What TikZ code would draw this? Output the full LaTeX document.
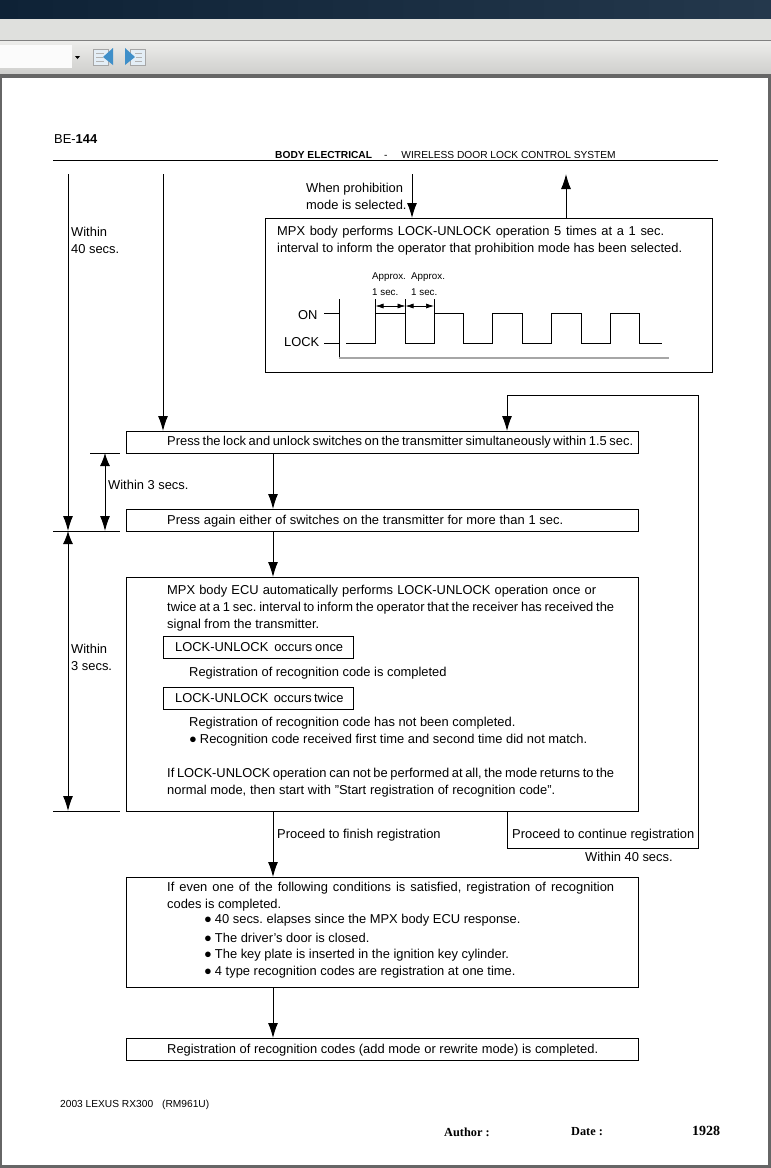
\documentclass[tikz,border=0pt]{standalone}
\usepackage{fontspec}
\setmainfont{Liberation Sans}
\newfontfamily\footserif{Liberation Serif}
\usetikzlibrary{arrows.meta}
\definecolor{barnavy}{HTML}{0E2236}
\definecolor{barslate}{HTML}{24384C}
\definecolor{barpale}{HTML}{DFE0DD}
\definecolor{toolhigh}{HTML}{EDEDEB}
\definecolor{toollow}{HTML}{CFCFCD}
\definecolor{pageedge}{HTML}{666666}
\definecolor{iconblue}{HTML}{3F8FC9}
\definecolor{iconpale}{HTML}{E4EEF6}
\newcommand{\fitline}[2]{\makebox[#1pt][s]{#2}}
\frenchspacing
\tikzset{
    flowbox/.style={draw, line width=1pt, inner sep=0pt, outer sep=0pt, anchor=north west},
    txt/.style={anchor=west, align=left, inner sep=0pt, yshift=-0.8pt, font=\fontsize{12.9}{16.8}\selectfont},
    smalltxt/.style={anchor=west, inner sep=0pt, font=\fontsize{10.2}{11}\selectfont},
    tinytxt/.style={anchor=west, inner sep=0pt, font=\fontsize{9.8}{11}\selectfont},
    footbold/.style={anchor=west, inner sep=0pt, font=\footserif\bfseries\fontsize{12.3}{14}\selectfont},
    arr/.style={line width=1pt, -{Latex[length=15pt,width=10pt]}},
    dbl/.style={line width=1pt, {Latex[length=13pt,width=10pt]}-{Latex[length=15pt,width=10pt]}},
    dim/.style={line width=0.7pt, {Latex[length=8pt,width=5pt]}-{Latex[length=8pt,width=5pt]}},
    wire/.style={line width=1pt}
}
\begin{document}
\begin{tikzpicture}[x=1pt,y=-1pt]
    \useasboundingbox (0,0) rectangle (771,1168);

    \fill[pageedge] (0,0) rectangle (771,1168);
    \fill[white] (2,78) rectangle (768,1165);
    \shade[left color=barnavy, right color=barslate] (0,0) rectangle (771,18);
    \fill[barpale] (0,19) rectangle (771,40);
    \draw[gray] (0,40.5) -- (771,40.5);
    \shade[top color=toolhigh, bottom color=toollow] (0,41) rectangle (771,73);
    \fill[white!97!gray] (0,45) rectangle (72,68);
    \fill[black] (75,56) -- (80,56) -- (77.5,59) -- cycle;
    \draw[gray!70, fill=iconpale] (93,49) rectangle (108,65);
    \draw[gray!60] (96,53) -- (104,53) (96,57) -- (103,57) (96,61) -- (104,61);
    \fill[iconblue] (113,48) -- (113,65) -- (103,57) -- cycle;
    \draw[gray!70, fill=iconpale] (130,49) rectangle (145,65);
    \draw[gray!60] (135,53) -- (142,53) (136,57) -- (142,57) (135,61) -- (142,61);
    \fill[iconblue] (125,48) -- (125,65) -- (135,57) -- cycle;

    \node[anchor=west, inner sep=0pt, font=\fontsize{12.9}{14}\selectfont] (pageno) at (54,139) {BE-\textbf{144}};
    \node[smalltxt] (headertxt) at (275,154.5) {\textbf{BODY ELECTRICAL}\hspace{12pt}-\hspace{14pt}WIRELESS DOOR LOCK CONTROL SYSTEM};
    \draw[wire] (53,160.5) -- (718,160.5);

    \node[flowbox, minimum width=447.5pt, minimum height=154.5pt] (prohibit) at (265,218) {};
    \node[flowbox, minimum width=512.5pt, minimum height=22pt] (press1) at (126,431) {};
    \node[flowbox, minimum width=512.5pt, minimum height=22pt] (press2) at (126,509) {};
    \node[flowbox, minimum width=512.5pt, minimum height=234pt] (ecu) at (126,577) {};
    \node[flowbox, minimum width=190.5pt, minimum height=22pt] (once) at (163,636) {};
    \node[flowbox, minimum width=190.5pt, minimum height=22pt] (twice) at (163,687) {};
    \node[flowbox, minimum width=512.5pt, minimum height=110pt] (finish) at (126,877) {};
    \node[flowbox, minimum width=512.5pt, minimum height=22pt] (done) at (126,1038) {};

    \coordinate (flow) at (273,0);
    \coordinate (top40) at (68,174);
    \coordinate (topstart) at (163,174);
    \coordinate (topprohibit) at (412,174);
    \coordinate (topexit) at (566,174);
    \coordinate (tick1) at (90,453);
    \coordinate (tick2) at (53,531);
    \coordinate (tick3) at (53,811);
    \coordinate (loopleft) at (507,811);
    \coordinate (loopbl) at (507,848);
    \coordinate (loopbr) at (698,848);
    \coordinate (looptr) at (698,395);
    \coordinate (looptl) at (507,395);

    \draw[arr] (top40) -- (top40 |- press2.south);
    \draw[arr] (topstart) -- (topstart |- press1.north);
    \draw[arr] (topprohibit) -- (topprohibit |- prohibit.north);
    \draw[arr] (topexit |- prohibit.north) -- (topexit);
    \draw[arr] (press1.south -| flow) -- (press2.north -| flow);
    \draw[arr] (press2.south -| flow) -- (ecu.north -| flow);
    \draw[arr] (ecu.south -| flow) -- (finish.north -| flow);
    \draw[arr] (finish.south -| flow) -- (done.north -| flow);
    \draw[arr] (loopleft) -- (loopbl) -- (loopbr) -- (looptr) -- (looptl) -- (looptl |- press1.north);

    \draw[wire] (tick1) -- (120,453);
    \draw[wire] (tick2) -- (120,531);
    \draw[wire] (tick3) -- (120,811);
    \draw[dbl] (105,453) -- (105,531);
    \draw[dbl] (68,531) -- (68,811);

    \node[txt] (within40) at (71,239.5) {Within\\40 secs.};
    \node[txt] (when) at (306,195.5) {When prohibition\\mode is selected.};
    \node[txt] (within3a) at (108,484) {Within 3 secs.};
    \node[txt] (within3b) at (71,656.5) {Within\\3 secs.};
    \node[txt] (prohibittxt) at (277,239.5) {\fitline{387}{MPX body performs LOCK-UNLOCK operation 5 times at a 1 sec.}\\\fitline{405}{interval to inform the operator that prohibition mode has been selected.}};

    \node[tinytxt] (approx1) at (372,277) {Approx.};
    \node[tinytxt] (approx2) at (411,277) {Approx.};
    \node[tinytxt] (sec1) at (372,292) {1 sec.};
    \node[tinytxt] (sec2) at (411,292) {1 sec.};
    \node[txt] (ontxt) at (298,314) {ON};
    \node[txt] (locktxt) at (284,341) {LOCK};
    \draw[wire] (339,299) -- (339,358);
    \draw[line width=1.5pt, gray!70] (339,358) -- (669,358);
    \draw[wire] (324,313.5) -- (339,313.5);
    \draw[wire] (324,343) -- (339,343);
    \draw[wire] (346,343) -- (375.5,343) -- (375.5,299) (375.5,313.5) -- (405.5,313.5) (405.5,299) -- (405.5,343) -- (434,343) -- (434,299) (434,313.5) -- (463,313.5) -- (463,343) -- (492.5,343) -- (492.5,313.5) -- (522,313.5) -- (522,343) -- (551.5,343) -- (551.5,313.5) -- (581,313.5) -- (581,343) -- (610.5,343) -- (610.5,313.5) -- (639,313.5) -- (639,343) -- (662,343);
    \draw[dim] (375.5,306) -- (405.5,306);
    \draw[dim] (405.5,306) -- (434,306);

    \node[txt] (press1txt) at (167,441) {\fitline{466}{Press the lock and unlock switches on the transmitter simultaneously within 1.5 sec.}};
    \node[txt] (press2txt) at (167,520) {\fitline{396}{Press again either of switches on the transmitter for more than 1 sec.}};
    \node[txt] (ecutxt) at (167,607.5) {\fitline{429}{MPX body ECU automatically performs LOCK-UNLOCK operation once or}\\\fitline{447}{twice at a 1 sec. interval to inform the operator that the receiver has received the}\\signal from the transmitter.};
    \node[txt] (oncetxt) at (175,646.5) {\fitline{168}{LOCK-UNLOCK\hspace{3pt} occurs once}};
    \node[txt] (oncenote) at (189,672) {Registration of recognition code is completed};
    \node[txt] (twicetxt) at (175,697.5) {\fitline{168}{LOCK-UNLOCK\hspace{3pt} occurs twice}};
    \node[txt] (twicenote) at (189,722) {Registration of recognition code has not been completed.};
    \node[txt] (mismatch) at (189,739.5) {●\hspace{3pt}Recognition code received first time and second time did not match.};
    \node[txt] (iftxt) at (167,781.5) {\fitline{447}{If LOCK-UNLOCK operation can not be performed at all, the mode returns to the}\\\fitline{388}{normal mode, then start with "Start registration of recognition code".}};
    \node[txt] (proceedfinish) at (277,834) {Proceed to finish registration};
    \node[txt] (proceedcont) at (512,834) {Proceed to continue registration};
    \node[txt] (within40b) at (585,856) {Within 40 secs.};
    \node[txt] (finishtxt) at (167,895.5) {\fitline{447}{If even one of the following conditions is satisfied, registration of recognition}\\codes is completed.};
    \foreach \i/\ypos/\cond in {a/919/40 secs. elapses since the MPX body ECU response.,
        b/937/The driver's door is closed.,
        c/954/The key plate is inserted in the ignition key cylinder.,
        d/971/4 type recognition codes are registration at one time.}
        \node[txt] (cond\i) at (204,\ypos) {●\hspace{3pt}\cond};
    \node[txt] (donetxt) at (167,1049) {\fitline{431}{Registration of recognition codes (add mode or rewrite mode) is completed.}};

    \node[smalltxt] (model) at (60,1104.5) {2003 LEXUS RX300\hspace{9pt}(RM961U)};
    \node[footbold] (author) at (444,1132) {Author :};
    \node[footbold] (date) at (571,1132) {Date :};
    \node[footbold, font=\footserif\bfseries\fontsize{14}{14}\selectfont] (pagetotal) at (692,1131) {1928};
\end{tikzpicture}
\end{document}
